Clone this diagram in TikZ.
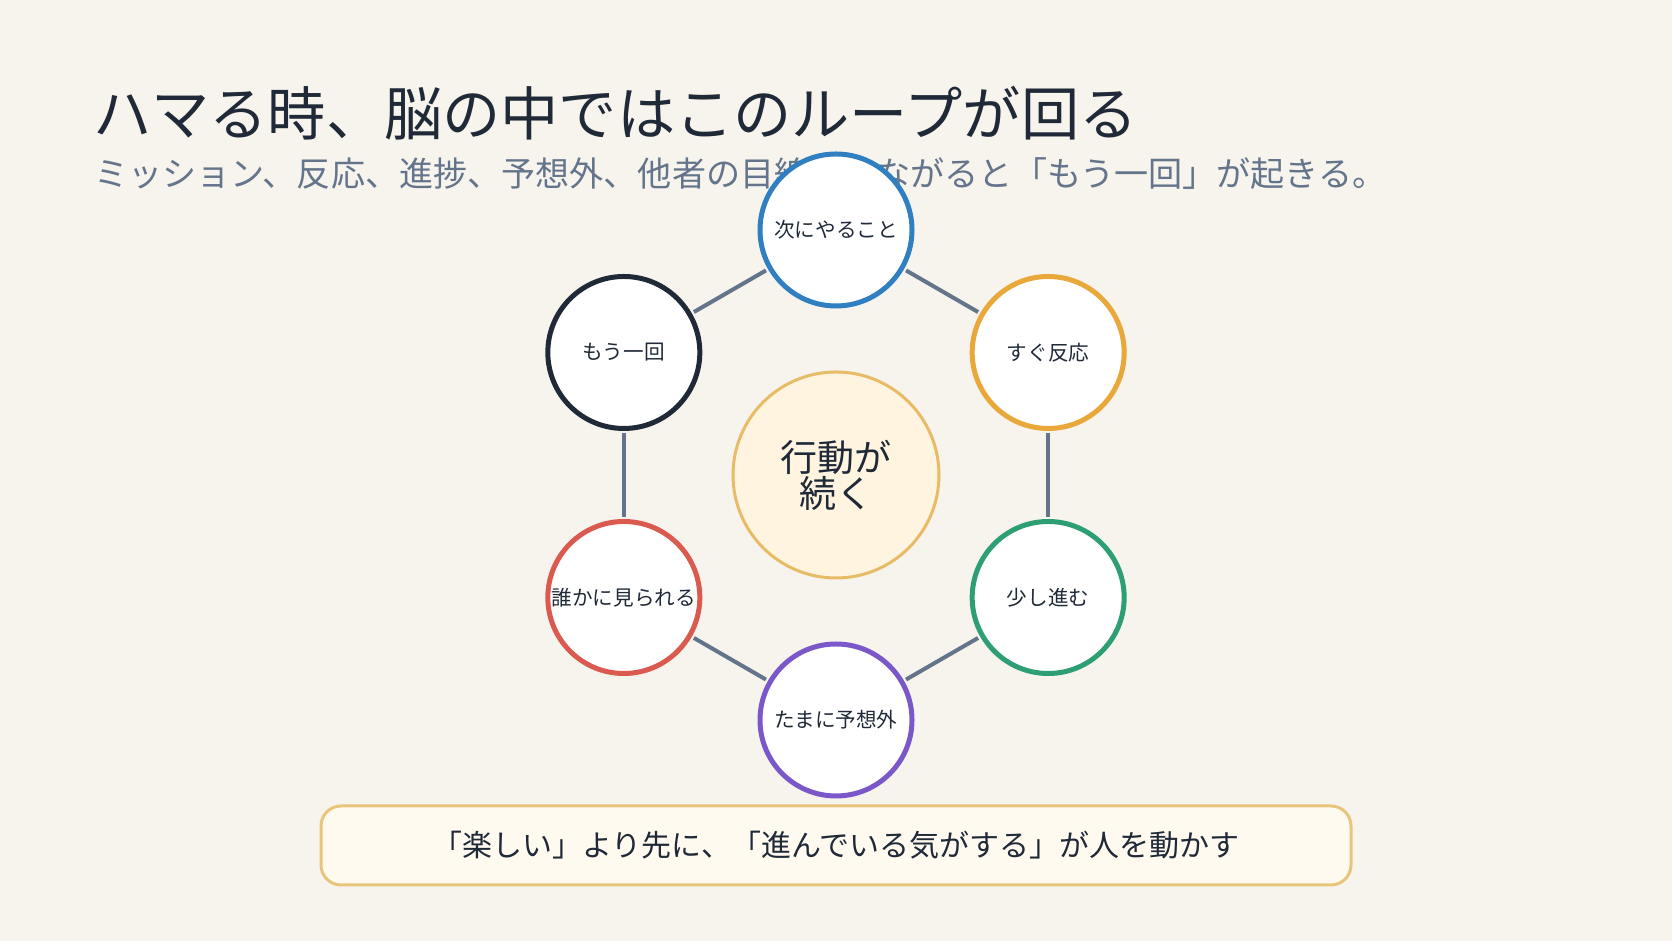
\documentclass[tikz,border=0pt]{standalone}
\usepackage{fontspec}
\setmainfont{Noto Sans CJK JP}
\usetikzlibrary{calc}

\definecolor{bgcol}{HTML}{F7F4EE}
\definecolor{inkcol}{HTML}{1F2937}
\definecolor{slatecol}{HTML}{64748B}
\definecolor{cblue}{HTML}{2F7FC1}
\definecolor{corange}{HTML}{E9A83A}
\definecolor{cgreen}{HTML}{2E9E74}
\definecolor{cpurple}{HTML}{7A58C9}
\definecolor{cred}{HTML}{DA5A4F}
\definecolor{cdark}{HTML}{1F2937}
\definecolor{corefill}{HTML}{FFF4E0}
\definecolor{coreline}{HTML}{E8BB66}
\definecolor{notefill}{HTML}{FFFAF0}
\definecolor{noteline}{HTML}{E8C57A}

\begin{document}
\begin{tikzpicture}[x=0.5pt,y=0.5pt,
    titletext/.style={anchor=west,inner sep=0pt,text=inkcol,font=\fontsize{29.1}{34}\selectfont},
    subtext/.style={anchor=west,inner sep=0pt,text=slatecol,font=\fontsize{17.05}{20}\selectfont},
    loopnode/.style={circle,draw=#1,line width=2.5pt,fill=white,minimum size=76pt,inner sep=0pt,
        text=inkcol,font=\fontsize{10.3}{12}\selectfont},
    corenode/.style={circle,draw=coreline,line width=1.5pt,fill=corefill,minimum size=103pt,inner sep=0pt,
        text=inkcol,align=center,font=\fontsize{18.5}{18}\selectfont},
    link/.style={slatecol,line width=2pt,shorten <=1.2pt,shorten >=1.2pt},
    notebox/.style={draw=noteline,line width=1.5pt,fill=notefill,rounded corners=10pt,
        minimum width=515pt,minimum height=39.5pt,inner sep=0pt,text=inkcol,font=\fontsize{15}{18}\selectfont}]
    \pgfmathsetmacro{\R}{245}

    \fill[bgcol] (0,0) rectangle (1672,941);
    \useasboundingbox (0,0) rectangle (1672,941);

    \coordinate (O) at (836,466);

    \node[titletext] (title) at (93,828) {ハマる時、脳の中ではこのループが回る};
    \node[subtext] (sub) at (94,767) {ミッション、反応、進捗、予想外、他者の目線がつながると「もう一回」が起きる。};

    \node[corenode] (core) at (O) {行動が\\続く};

    \foreach \ang/\nm/\col/\txt in {90/next/cblue/次にやること, 30/react/corange/すぐ反応,
        -30/step/cgreen/少し進む, -90/surprise/cpurple/たまに予想外,
        -150/seen/cred/誰かに見られる, 150/again/cdark/もう一回}{
        \node[loopnode=\col] (\nm) at ($(O)+(\ang:\R)$) {\txt};
    }
    \foreach \a/\b in {next/react,react/step,step/surprise,surprise/seen,seen/again,again/next}{
        \draw[link] (\a) -- (\b);
    }

    \node[notebox] (note) at (836,95.5) {「楽しい」より先に、「進んでいる気がする」が人を動かす};
\end{tikzpicture}
\end{document}
